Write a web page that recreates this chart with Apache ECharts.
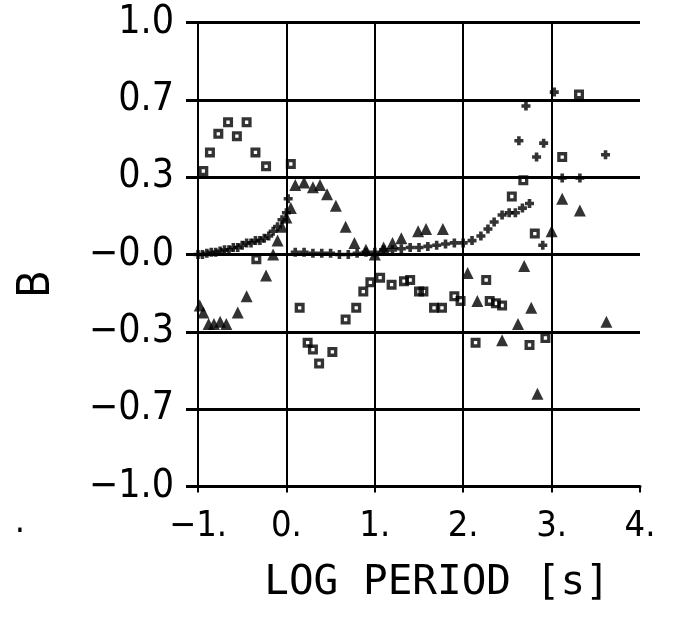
<!DOCTYPE html>
<html>
<head>
<meta charset="utf-8">
<script src="https://cdn.jsdelivr.net/npm/echarts@6/dist/echarts.min.js"></script>
<style>
html,body{margin:0;padding:0;background:#fff;}
#chart{width:687px;height:619px;}
</style>
</head>
<body>
<div id="chart"></div>
<script>
// ---- data (log period [s], B) ----
var yTickLabels = ['\u22121.0', '\u22120.7', '\u22120.3', '\u22120.0', '0.3', '0.7', '1.0'];
var xTickLabels = ['\u22121.', '0.', '1.', '2.', '3.', '4.'];

var squarePeriod = [-0.94, -0.865, -0.77, -0.66, -0.56, -0.45, -0.35, -0.23, -0.34, 0.05,
  0.15, 0.24, 0.30, 0.37, 0.52, 0.67, 0.79, 0.87, 0.95, 1.06, 1.19, 1.33, 1.40, 1.50, 1.55,
  1.67, 1.76, 1.90, 1.97, 2.14, 2.26, 2.30, 2.37, 2.44, 2.55, 2.68, 2.75, 2.81, 2.93, 3.12, 3.31];
var squareB = [0.36, 0.44, 0.52, 0.57, 0.51, 0.57, 0.44, 0.38, -0.02, 0.39,
  -0.23, -0.38, -0.41, -0.47, -0.42, -0.28, -0.23, -0.16, -0.12, -0.10, -0.13, -0.115, -0.11, -0.16, -0.16,
  -0.23, -0.23, -0.18, -0.20, -0.38, -0.11, -0.20, -0.21, -0.22, 0.25, 0.32, -0.39, 0.09, -0.36, 0.42, 0.69];

var plusPeriod = [-1.0, -0.95, -0.9, -0.85, -0.8, -0.75, -0.7, -0.65, -0.6, -0.55, -0.5, -0.45,
  -0.4, -0.35, -0.3, -0.25, -0.2, -0.15, -0.1, -0.05, 0.0, 0.02,
  0.1, 0.2, 0.3, 0.4, 0.5, 0.6, 0.7, 0.8, 0.9, 1.0, 1.1, 1.2, 1.3, 1.4, 1.5, 1.6, 1.7, 1.8, 1.9,
  2.0, 2.1, 2.2, 2.28, 2.35, 2.44, 2.52, 2.59, 2.67, 2.75,
  2.63, 2.71, 2.83, 2.91, 3.03, 3.12, 3.32, 3.61, 2.90];
var plusB = [0.0, 0.0, 0.005, 0.01, 0.01, 0.015, 0.02, 0.02, 0.03, 0.03, 0.04, 0.05,
  0.05, 0.06, 0.06, 0.07, 0.08, 0.10, 0.12, 0.15, 0.18, 0.24,
  0.01, 0.01, 0.005, 0.005, 0.005, 0.0, 0.0, 0.005, 0.01, 0.01, 0.02, 0.02, 0.025, 0.03, 0.03, 0.035, 0.04, 0.045, 0.05,
  0.05, 0.06, 0.08, 0.11, 0.14, 0.17, 0.18, 0.18, 0.20, 0.22,
  0.49, 0.64, 0.42, 0.48, 0.70, 0.33, 0.33, 0.43, 0.04];

var trianglePeriod = [-0.98, -0.94, -0.88, -0.82, -0.75, -0.68, -0.55, -0.45, -0.23, -0.15,
  -0.1, -0.05, 0.0, 0.05, 0.1, 0.2, 0.3, 0.38, 0.46, 0.56, 0.67, 0.77, 0.9, 1.0, 1.1, 1.2, 1.3,
  1.49, 1.58, 1.77, 2.05, 2.16, 2.44, 2.62, 2.69, 2.77, 2.84, 3.0, 3.12, 3.32, 3.62];
var triangleB = [-0.22, -0.25, -0.30, -0.30, -0.29, -0.30, -0.25, -0.18, -0.09, 0.0,
  0.06, 0.12, 0.16, 0.20, 0.30, 0.31, 0.29, 0.30, 0.26, 0.21, 0.12, 0.05, 0.02, 0.0, 0.03, 0.05, 0.07,
  0.10, 0.11, 0.11, -0.08, -0.20, -0.37, -0.30, -0.05, -0.23, -0.60, 0.10, 0.24, 0.19, -0.29];

function pairs(xs, ys) { return xs.map(function (x, i) { return [x, ys[i]]; }); }

var labelFont = '"Liberation Sans Narrow", "DejaVu Sans Condensed", "Liberation Sans", sans-serif';
var monoFont = '"DejaVu Sans Mono", "Liberation Mono", monospace';

var chart = echarts.init(document.getElementById('chart'), null, {renderer: 'canvas'});
chart.setOption({
  animation: false,
  backgroundColor: '#fff',
  grid: {left: 198, right: 47, top: 22.5, bottom: 132.5, containLabel: false},
  xAxis: {
    type: 'value', min: -1, max: 4, interval: 1,
    name: 'LOG PERIOD [s]', nameLocation: 'middle', nameGap: 76,
    nameTextStyle: {fontFamily: monoFont, fontSize: 41, color: '#000', padding: [0, 0, 0, 36]},
    axisLine: {show: true, onZero: false, lineStyle: {color: '#000', width: 3}},
    axisTick: {show: true, length: 6, lineStyle: {color: '#000', width: 2}},
    axisLabel: {margin: 22, fontFamily: labelFont, fontSize: 36, color: '#000',
      formatter: function (v) { return xTickLabels[Math.round(v + 1)]; }},
    splitLine: {show: true, showMinLine: false, showMaxLine: false, lineStyle: {color: '#000', width: 2}}
  },
  yAxis: {
    type: 'value', min: -1, max: 1, interval: 1 / 3,
    axisLine: {show: true, onZero: false, lineStyle: {color: '#000', width: 2}},
    axisTick: {show: true, length: 12, lineStyle: {color: '#000', width: 3}},
    axisLabel: {margin: 24, fontFamily: labelFont, fontSize: 39, color: '#000',
      formatter: function (v) { return yTickLabels[Math.round((v + 1) * 3)]; }},
    splitLine: {show: true, lineStyle: {color: '#000', width: 3}}
  },
  graphic: [
    {type: 'text', x: 37, y: 284, rotation: Math.PI / 2,
      style: {text: 'B', fontFamily: labelFont, fontSize: 45, fill: '#000', align: 'center', verticalAlign: 'middle'}},
    {type: 'text', x: 20, y: 523,
      style: {text: '.', fontFamily: labelFont, fontSize: 36, fill: '#000', align: 'center', verticalAlign: 'middle'}}
  ],
  series: [
    {type: 'scatter', name: 'squares', data: pairs(squarePeriod, squareB),
      symbol: 'path://M0,0H9V9H0Z M3,3V6H6V3Z', symbolSize: 10,
      itemStyle: {color: '#000'}},
    {type: 'scatter', name: 'plus', data: pairs(plusPeriod, plusB),
      symbol: 'path://M3,0H7V3H10V7H7V10H3V7H0V3H3Z', symbolSize: 9,
      itemStyle: {color: '#000'}},
    {type: 'scatter', name: 'triangles', data: pairs(trianglePeriod, triangleB),
      symbol: 'triangle', symbolSize: 12,
      itemStyle: {color: '#000'}}
  ]
});
</script>
</body>
</html>
